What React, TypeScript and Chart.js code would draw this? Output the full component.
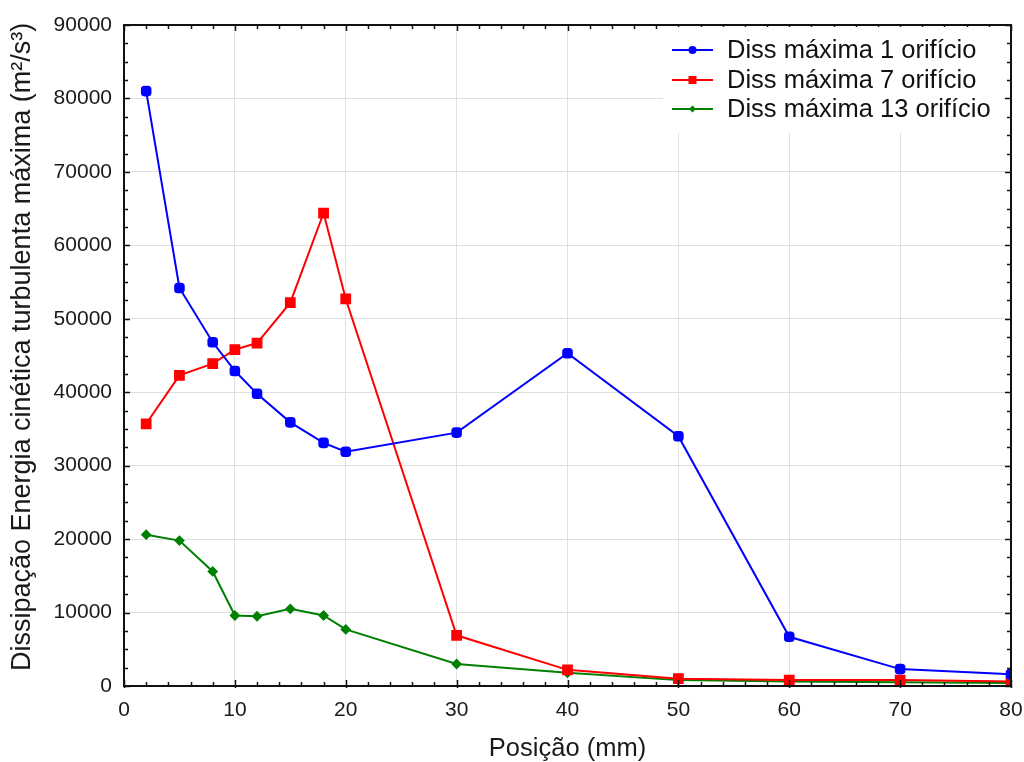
import React, { useEffect, useRef } from "react";
import { Chart, registerables } from "chart.js";

Chart.register(...registerables);

const positions = [2, 5, 8, 10, 12, 15, 18, 20, 30, 40, 50, 60, 70, 80];
const diss1 = [81000, 54200, 46800, 42900, 39800, 35900, 33100, 31900, 34500, 45300, 34000, 6700, 2300, 1600];
const diss7 = [35700, 42300, 43900, 45800, 46700, 52200, 64400, 52700, 6900, 2200, 1000, 800, 800, 600];
const diss13 = [20600, 19800, 15600, 9600, 9500, 10500, 9600, 7700, 3000, 1800, 800, 600, 500, 400];

const seriesLabels = ["Diss máxima 1 orifício", "Diss máxima 7 orifício", "Diss máxima 13 orifício"];
const seriesColors = ["#0000ff", "#ff0000", "#008000"];
const xTitle = "Posição (mm)";
const yTitle = "Dissipação Energia cinética turbulenta máxima (m²/s³)";

const FONT = "'Liberation Sans', Arial, sans-serif";

const framePlugin = {
  id: "frameTicks",
  afterDatasetsDraw(chart: any) {
    const { ctx, chartArea, scales } = chart;
    const { left, right, top, bottom } = chartArea;
    const xs = scales.x;
    const ys = scales.y;
    ctx.save();
    ctx.strokeStyle = "#111";
    ctx.lineWidth = 1.5;
    ctx.beginPath();
    for (let v = 0; v <= 80; v += 2) {
      const px = Math.round(xs.getPixelForValue(v)) + 0.5;
      const len = v % 10 === 0 ? 6 : 4;
      ctx.moveTo(px, bottom + (v % 10 === 0 ? 2 : 0));
      ctx.lineTo(px, bottom - len);
      ctx.moveTo(px, top);
      ctx.lineTo(px, top + len);
    }
    for (let v = 0; v <= 90000; v += 2500) {
      const py = Math.round(ys.getPixelForValue(v)) + 0.5;
      const len = v % 10000 === 0 ? 6 : 4;
      ctx.moveTo(left, py);
      ctx.lineTo(left + len, py);
      ctx.moveTo(right, py);
      ctx.lineTo(right - len, py);
    }
    ctx.stroke();
    ctx.lineWidth = 2;
    ctx.strokeStyle = "#111";
    ctx.strokeRect(left, top, right - left, bottom - top);
    ctx.restore();
  },
  afterDraw(chart: any) {
    const { ctx } = chart;
    ctx.save();
    ctx.translate(23, 347);
    ctx.rotate(-Math.PI / 2);
    ctx.fillStyle = "#1a1a1a";
    ctx.font = `27px ${FONT}`;
    ctx.textAlign = "center";
    ctx.textBaseline = "middle";
    ctx.fillText(yTitle, 0, 0);
    ctx.restore();
  },
};

const legendPlugin = {
  id: "boxLegend",
  afterDraw(chart: any) {
    const { ctx, chartArea } = chart;
    const bx = 663;
    const by = chartArea.top + 2;
    const bw = chartArea.right - 8 - bx;
    const bh = 133 - by;
    ctx.save();
    ctx.fillStyle = "#ffffff";
    ctx.fillRect(bx, by, bw, bh);
    const rowsY = [50, 80, 109];
    chart.data.datasets.forEach((ds: any, i: number) => {
      const y = rowsY[i];
      ctx.strokeStyle = ds.borderColor;
      ctx.lineWidth = 2;
      ctx.beginPath();
      ctx.moveTo(672, y);
      ctx.lineTo(713, y);
      ctx.stroke();
      ctx.fillStyle = ds.borderColor;
      if (i === 0) {
        ctx.beginPath();
        ctx.arc(692.5, y, 4, 0, Math.PI * 2);
        ctx.fill();
      } else if (i === 1) {
        ctx.fillRect(688.5, y - 4, 8, 8);
      } else {
        ctx.beginPath();
        ctx.moveTo(692.5, y - 3.5);
        ctx.lineTo(696, y);
        ctx.lineTo(692.5, y + 3.5);
        ctx.lineTo(689, y);
        ctx.closePath();
        ctx.fill();
      }
      ctx.fillStyle = "#111";
      ctx.font = `25.5px ${FONT}`;
      ctx.textBaseline = "alphabetic";
      ctx.textAlign = "left";
      ctx.fillText(ds.label, 727, y + 7.5);
    });
    ctx.restore();
  },
};

export default function App() {
  const ref = useRef<HTMLCanvasElement | null>(null);
  useEffect(() => {
    document.body.style.margin = "0";
    const canvas = ref.current;
    if (!canvas) return;
    const mk = (vals: number[]) => positions.map((x, i) => ({ x, y: vals[i] }));
    const chart = new Chart(canvas, {
      type: "line",
      data: {
        datasets: [
          {
            label: seriesLabels[0],
            data: mk(diss1),
            borderColor: seriesColors[0],
            backgroundColor: seriesColors[0],
            borderWidth: 2,
            pointStyle: "rectRounded",
            pointRadius: 5,
            pointHoverRadius: 5,
            tension: 0,
          },
          {
            label: seriesLabels[1],
            data: mk(diss7),
            borderColor: seriesColors[1],
            backgroundColor: seriesColors[1],
            borderWidth: 2,
            pointStyle: "rect",
            pointRadius: 6.2,
            pointHoverRadius: 6.2,
            tension: 0,
          },
          {
            label: seriesLabels[2],
            data: mk(diss13),
            borderColor: seriesColors[2],
            backgroundColor: seriesColors[2],
            borderWidth: 2,
            pointStyle: "rectRot",
            pointRadius: 4,
            pointHoverRadius: 4,
            tension: 0,
          },
        ],
      },
      options: {
        responsive: false,
        animation: false,
        layout: { padding: { top: 25, right: 13, left: 0, bottom: 0 } },
        plugins: {
          legend: { display: false },
          tooltip: { enabled: false },
        },
        scales: {
          x: {
            type: "linear",
            min: 0,
            max: 80,
            ticks: {
              stepSize: 10,
              color: "#1a1a1a",
              font: { family: FONT, size: 21 },
              padding: 12,
              maxRotation: 0,
              callback: (v: any) => String(v),
            },
            grid: { color: "#e0e0e0", lineWidth: 1, drawTicks: false },
            border: { display: false },
            title: {
              display: true,
              text: xTitle,
              color: "#1a1a1a",
              font: { family: FONT, size: 25.5 },
              padding: { top: 0, bottom: -2 },
            },
            afterFit: (s: any) => {
              s.height = 76;
              s.paddingLeft = 0;
              s.paddingRight = 0;
            },
          },
          y: {
            type: "linear",
            min: 0,
            max: 90000,
            ticks: {
              stepSize: 10000,
              color: "#1a1a1a",
              font: { family: FONT, size: 21 },
              padding: 12,
              callback: (v: any) => String(v),
            },
            grid: { color: "#e0e0e0", lineWidth: 1, drawTicks: false },
            border: { display: false },
            title: { display: false },
            afterFit: (s: any) => {
              s.width = 124;
              s.paddingTop = 0;
              s.paddingBottom = 0;
            },
          },
        },
      },
      plugins: [framePlugin, legendPlugin],
    });
    return () => chart.destroy();
  }, []);
  return (
    <div style={{ position: "absolute", left: 0, top: 0, width: 1024, height: 762, background: "#fff" }}>
      <canvas ref={ref} width={1024} height={762} style={{ display: "block" }} />
    </div>
  );
}
